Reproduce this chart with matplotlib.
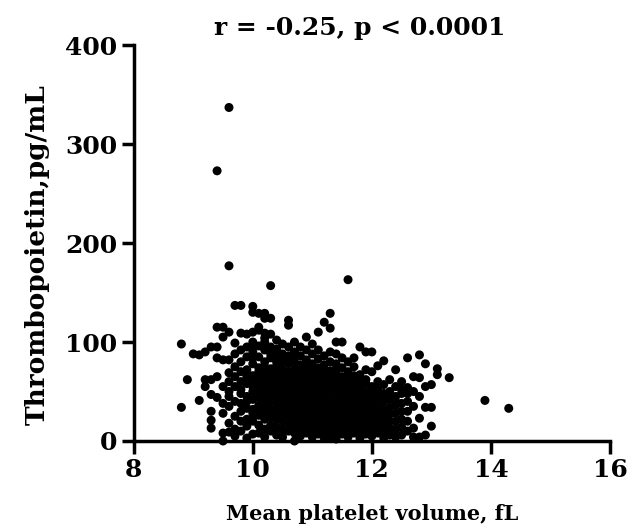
import numpy as np
import matplotlib
matplotlib.use("Agg")
import matplotlib.pyplot as plt

# === data: thrombopoietin (pg/mL) grouped by mean platelet volume (fL) ===
mpv_levels = [8.8, 8.9, 9.0, 9.1, 9.2, 9.3, 9.4, 9.5, 9.6, 9.7, 9.8, 9.9,
              10.0, 10.1, 10.2, 10.3, 10.4, 10.5, 10.6, 10.7, 10.8, 10.9,
              11.0, 11.1, 11.2, 11.3, 11.4, 11.5, 11.6, 11.7, 11.8, 11.9,
              12.0, 12.1, 12.2, 12.3, 12.4, 12.5, 12.6, 12.7, 12.8, 12.9,
              13.0, 13.1, 13.3, 13.9, 14.3]

tpo_by_level = [
    [98, 34],
    [62],
    [88],
    [87, 41],
    [90, 62, 55],
    [62, 47, 21, 13, 95, 30],
    [95, 84, 44, 65, 273, 115],
    [115, 105, 82, 38, 0, 8, 55, 28],
    [337, 177, 110, 82, 69, 18, 9, 50, 35, 60, 45],
    [99, 137, 75, 55, 40, 25, 12, 88, 65, 5],
    [137, 92, 80, 60, 48, 30, 20, 10, 70, 38, 52, 109],
    [108, 95, 85, 72, 58, 45, 33, 22, 15, 65, 40, 3],
    [130, 136, 100, 90, 78, 66, 55, 42, 32, 20, 7, 50, 62, 84, 28, 110, 95],
    [129, 112, 96, 85, 74, 63, 52, 44, 36, 26, 16, 8, 58, 70, 47, 30, 115],
    [124, 129, 104, 92, 80, 68, 60, 50, 40, 30, 22, 12, 4, 75, 55, 35, 45, 100, 109],
    [157, 124, 108, 95, 84, 73, 64, 56, 48, 40, 32, 24, 16, 10, 88, 70, 52, 44, 28],
    [102, 93, 85, 76, 68, 60, 52, 45, 38, 30, 22, 14, 6, 80, 64, 55, 42, 34, 90],
    [98, 88, 80, 72, 65, 58, 50, 43, 36, 28, 20, 12, 4, 84, 62, 46, 33, 25],
    [122, 117, 95, 86, 78, 70, 62, 55, 48, 40, 33, 26, 18, 10, 66, 52, 44, 30, 82],
    [100, 90, 80, 72, 64, 57, 50, 43, 36, 29, 22, 15, 8, 0, 68, 53, 39, 60, 85],
    [95, 86, 77, 69, 61, 54, 47, 40, 33, 26, 19, 12, 5, 73, 58, 44, 30, 65],
    [105, 92, 82, 74, 66, 58, 50, 43, 36, 29, 22, 15, 8, 70, 55, 40, 62, 46],
    [98, 88, 78, 70, 62, 54, 46, 39, 32, 25, 18, 11, 4, 66, 50, 35, 58, 42],
    [110, 92, 83, 74, 66, 58, 50, 42, 35, 28, 21, 14, 7, 70, 54, 38, 46, 62],
    [120, 86, 77, 68, 60, 52, 45, 38, 31, 24, 17, 10, 3, 72, 56, 41, 64, 48],
    [129, 114, 90, 80, 71, 63, 55, 47, 40, 33, 26, 19, 12, 5, 67, 51, 36, 59],
    [100, 88, 78, 69, 60, 52, 44, 37, 30, 23, 16, 9, 2, 73, 56, 41, 64],
    [100, 84, 74, 65, 57, 49, 42, 35, 28, 21, 14, 7, 61, 46, 31, 53],
    [163, 80, 70, 62, 54, 46, 39, 32, 25, 18, 11, 4, 66, 50, 35, 58],
    [84, 75, 66, 58, 50, 43, 36, 29, 22, 15, 8, 62, 47, 32, 54],
    [67, 95, 60, 52, 45, 38, 31, 24, 17, 10, 3, 56, 41, 48],
    [90, 72, 58, 50, 42, 35, 28, 21, 14, 7, 46, 32, 62],
    [90, 70, 55, 47, 40, 33, 26, 19, 12, 5, 50, 37],
    [76, 60, 52, 44, 36, 29, 22, 15, 8, 48, 33],
    [81, 57, 48, 40, 32, 25, 18, 11, 44, 3],
    [62, 50, 42, 34, 27, 20, 13, 6, 46],
    [72, 55, 45, 36, 28, 20, 12, 4, 40],
    [60, 48, 38, 30, 22, 14, 6, 52],
    [84, 54, 48, 40, 30, 20, 10],
    [65, 13, 4, 35, 50],
    [87, 64, 23, 4, 45],
    [78, 34, 6, 55],
    [57, 34, 15],
    [73, 67],
    [64],
    [41],
    [33],
]

title_text = "r = -0.25, p < 0.0001"
x_label = "Mean platelet volume, fL"
y_label = "Thrombopoietin,pg/mL"
x_ticks = [8, 10, 12, 14, 16]
y_ticks = [0, 100, 200, 300, 400]

mpv = np.concatenate([[lv] * len(v) for lv, v in zip(mpv_levels, tpo_by_level)])
tpo = np.concatenate([np.asarray(v, dtype=float) for v in tpo_by_level])

# === plot ===
plt.rcParams['font.family'] = ['DejaVu Serif']
plt.rcParams['font.weight'] = 'bold'

fig = plt.figure(figsize=(6.4, 5.31), dpi=100)
ax = fig.add_axes([0.209, 0.1695, 0.744, 0.7455])

ax.scatter(mpv, tpo, s=42, c='black', edgecolors='none', clip_on=False, zorder=3)

ax.set_xlim(8, 16)
ax.set_ylim(0, 400)
ax.set_xticks(x_ticks)
ax.set_yticks(y_ticks)

for side in ['top', 'right']:
    ax.spines[side].set_visible(False)
for side in ['left', 'bottom']:
    ax.spines[side].set_linewidth(2.5)

ax.tick_params(axis='both', direction='out', length=9, width=2.5, labelsize=18, pad=3)
for lbl in ax.get_xticklabels() + ax.get_yticklabels():
    lbl.set_fontweight('bold')

ax.set_xlabel(x_label, fontsize=15, fontweight='bold', labelpad=16)
ax.set_ylabel(y_label, fontsize=19, fontweight='bold')
ax.yaxis.set_label_coords(-0.176, 0.47)
fig.text(360 / 640, 1 - 35 / 531, title_text, fontsize=18, fontweight='bold',
         ha='center', va='baseline')

plt.savefig('out.png', dpi=100)
